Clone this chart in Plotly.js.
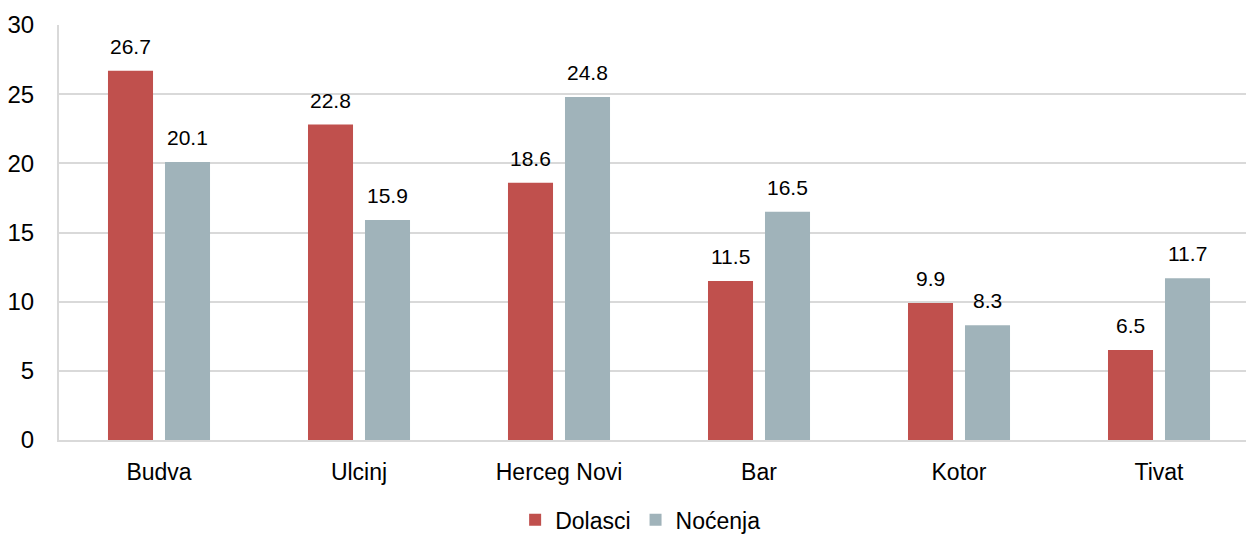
<!DOCTYPE html>
<html>
<head>
<meta charset="utf-8">
<script src="https://cdn.plot.ly/plotly-3.0.1.min.js"></script>
<style>html,body{margin:0;padding:0;background:#fff;}#chart{width:1246px;height:536px;}</style>
</head>
<body>
<div id="chart"></div>
<script>
const categories = ["Budva", "Ulcinj", "Herceg Novi", "Bar", "Kotor", "Tivat"];
const dolasci = [26.7, 22.8, 18.6, 11.5, 9.9, 6.5];
const nocenja = [20.1, 15.9, 24.8, 16.5, 8.3, 11.7];
const seriesNames = ["Dolasci", "Noćenja"];
const colors = ["#C0504D", "#A0B3BA"];

const font = "Liberation Sans, Arial, sans-serif";
const traces = [dolasci, nocenja].map((vals, i) => ({
  type: "bar",
  name: seriesNames[i],
  x: categories,
  y: vals,
  marker: {color: colors[i]},
  hoverinfo: "x+y+name"
}));

const annotations = [];
[dolasci, nocenja].forEach((vals, i) => {
  vals.forEach((v, j) => {
    annotations.push({
      x: categories[j], y: v, xref: "x", yref: "y",
      text: v.toFixed(1), showarrow: false,
      xanchor: "center", yanchor: "bottom",
      xshift: i === 0 ? -28.5 : 28.5, yshift: 11,
      font: {family: font, size: 21, color: "#000"}
    });
  });
});

const layout = {
  width: 1246, height: 536,
  margin: {l: 59, r: 0, t: 25, b: 96, autoexpand: false},
  paper_bgcolor: "#fff", plot_bgcolor: "#fff",
  barmode: "group", bargap: 0.43, bargroupgap: 0.21,
  font: {family: font, size: 23, color: "#000"},
  xaxis: {
    type: "category", range: [-0.5, 5.435], automargin: false,
    showline: true, linecolor: "#D9D9D9", linewidth: 2,
    showgrid: false, ticks: "", ticklabelstandoff: 10,
    tickfont: {family: font, size: 23, color: "#000"}
  },
  yaxis: {
    range: [0, 30], dtick: 5, tick0: 0, automargin: false,
    showline: true, linecolor: "#D9D9D9", linewidth: 2,
    showgrid: true, gridcolor: "#D9D9D9", gridwidth: 2,
    zeroline: false, ticks: "", ticklabelstandoff: 18,
    tickfont: {family: font, size: 24, color: "#000"}
  },
  showlegend: true,
  legend: {
    orientation: "h", x: 0.49, xanchor: "center",
    yref: "paper", y: -0.192, yanchor: "middle",
    font: {family: font, size: 23, color: "#000"},
    itemwidth: 30, traceorder: "normal"
  },
  annotations: annotations
};

Plotly.newPlot("chart", traces, layout, {displayModeBar: false, staticPlot: true});
</script>
</body>
</html>
